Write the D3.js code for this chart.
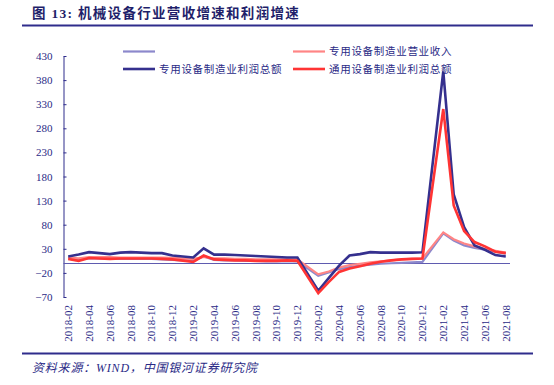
<!DOCTYPE html>
<html>
<head>
<meta charset="utf-8">
<script src="https://cdn.jsdelivr.net/npm/d3@7"></script>
<style>
  body { margin: 0; background: #fff; }
  svg { display: block; }
</style>
</head>
<body>
<div id="chart"></div>
<script>
// 月份（1月无单独数据，为 null）
const months = [
  "2018-02","2018-03","2018-04","2018-05","2018-06","2018-07","2018-08","2018-09","2018-10","2018-11","2018-12",
  "2019-01","2019-02","2019-03","2019-04","2019-05","2019-06","2019-07","2019-08","2019-09","2019-10","2019-11","2019-12",
  "2020-01","2020-02","2020-03","2020-04","2020-05","2020-06","2020-07","2020-08","2020-09","2020-10","2020-11","2020-12",
  "2021-01","2021-02","2021-03","2021-04","2021-05","2021-06","2021-07","2021-08"
];
const xTickLabels = [
  "2018-02","2018-04","2018-06","2018-08","2018-10","2018-12","2019-02","2019-04","2019-06","2019-08","2019-10",
  "2019-12","2020-02","2020-04","2020-06","2020-08","2020-10","2020-12","2021-02","2021-04","2021-06","2021-08"
];
const yTicks = [-70, -20, 30, 80, 130, 180, 230, 280, 330, 380, 430];

// 通用设备制造业营业收入（图例无文字）
const revGeneral = [
  10, 8, 10, 10, 10, 9, 9, 9, 9, 8, 7,
  null, 5, 14, 7, 6, 6, 5, 5, 4, 4, 4, 4,
  null, -26, -19, -12, -8, -5, -3, -1, 0, 1, 2, 3,
  null, 62, 47, 37, 32, 28, 24, 20
];
// 专用设备制造业营业收入
const revSpecial = [
  12, 10, 13, 13, 13, 12, 12, 12, 12, 12, 11,
  null, 9, 13, 10, 10, 9, 9, 8, 8, 8, 8, 8,
  null, -23, -17, -9, -4, -1, 2, 4, 6, 8, 9, 10,
  null, 64, 50, 41, 35, 30, 26, 22
];
// 专用设备制造业利润总额
const profitSpecial = [
  14, 18, 23, 21, 19, 22, 23, 22, 21, 21, 16,
  null, 12, 31, 18, 18, 17, 16, 15, 14, 13, 12, 12,
  null, -57, -31, -5, 16, 19, 23, 22, 22, 22, 22, 23,
  null, 398, 143, 75, 37, 28, 17, 14
];
// 通用设备制造业利润总额
const profitGeneral = [
  9, 5, 11, 10, 9, 10, 10, 10, 10, 9, 8,
  null, 3, 16, 8, 7, 6, 6, 5, 5, 5, 6, 5,
  null, -62, -39, -18, -11, -6, -1, 3, 6, 8, 9, 10,
  null, 320, 120, 67, 44, 35, 24, 21
];

const seriesNames = ["", "专用设备制造业营业收入", "专用设备制造业利润总额", "通用设备制造业利润总额"];
const seriesColors = ["#8c88cc", "#ff8585", "#35308e", "#ff3434"];
const seriesWidths = [2.2, 2.2, 2.6, 2.6];
const seriesValues = [revGeneral, revSpecial, profitSpecial, profitGeneral];

const W = 554, H = 385;
const navy = "#2f2c8c";
const textNavy = "#2a2a86";

const svg = d3.select("#chart").append("svg")
  .attr("width", W).attr("height", H);

// 标题
svg.append("text")
  .attr("x", 32).attr("y", 18)
  .attr("font-family", "'Liberation Serif','Noto Sans CJK SC',serif")
  .attr("font-weight", "bold")
  .attr("font-size", "13.5px")
  .attr("letter-spacing", "1.3px")
  .attr("fill", "#1f1f6a")
  .text("图 13:  机械设备行业营收增速和利润增速");

svg.append("line")
  .attr("x1", 22).attr("x2", 533).attr("y1", 25.5).attr("y2", 25.5)
  .attr("stroke", navy).attr("stroke-width", 2);

svg.append("line")
  .attr("x1", 22).attr("x2", 533).attr("y1", 353.5).attr("y2", 353.5)
  .attr("stroke", navy).attr("stroke-width", 2);

svg.append("text")
  .attr("x", 32).attr("y", 372)
  .attr("font-family", "'Liberation Serif','Noto Sans CJK SC',serif")
  .attr("font-style", "italic")
  .attr("font-size", "12px")
  .attr("letter-spacing", "0.8px")
  .attr("fill", textNavy)
  .text("资料来源：WIND，中国银河证券研究院");

// 比例尺
const x = d3.scaleBand().domain(months).range([63, 511]);
const cx = m => x(m) + x.bandwidth() / 2;
const y = d3.scaleLinear().domain([-70, 430]).range([297, 56]);

// Y 轴（刻度朝内）
const yAxis = svg.append("g")
  .attr("transform", "translate(63.5,0)")
  .call(d3.axisLeft(y).tickValues(yTicks).tickSizeInner(-3).tickSizeOuter(0).tickPadding(11));
yAxis.select(".domain").attr("stroke", navy);
yAxis.selectAll("line").attr("stroke", navy);
yAxis.selectAll("text")
  .attr("font-family", "'Liberation Serif',serif")
  .attr("font-size", "11px")
  .attr("fill", textNavy);

// X 轴标签（竖排）
const xAxis = svg.append("g")
  .attr("transform", "translate(0,297)")
  .call(d3.axisBottom(x).tickValues(xTickLabels).tickSize(0));
xAxis.select(".domain").remove();
xAxis.selectAll("text")
  .attr("transform", "rotate(-90)")
  .attr("x", -8).attr("y", 0).attr("dy", "0.35em")
  .attr("text-anchor", "end")
  .attr("font-family", "'Liberation Serif',serif")
  .attr("font-size", "11px")
  .attr("fill", textNavy);

// 零线
svg.append("line")
  .attr("x1", 63.5).attr("x2", 510).attr("y1", Math.round(y(0)) + 0.5).attr("y2", Math.round(y(0)) + 0.5)
  .attr("stroke", "#5f5bb0").attr("stroke-width", 1);

// 折线
const line = d3.line()
  .x(d => cx(d.m))
  .y(d => y(d.v));

seriesValues.forEach((vals, i) => {
  const pts = months.map((m, j) => ({ m, v: vals[j] })).filter(d => d.v != null);
  svg.append("path")
    .datum(pts)
    .attr("fill", "none")
    .attr("stroke", seriesColors[i])
    .attr("stroke-width", seriesWidths[i])
    .attr("stroke-linejoin", "miter")
    .attr("d", line);
});

// 图例
const legendPos = [
  { x: 123, y: 51.5 },
  { x: 293, y: 51.5 },
  { x: 123, y: 69 },
  { x: 293, y: 69 }
];
seriesNames.forEach((name, i) => {
  const p = legendPos[i];
  const g = svg.append("g").attr("transform", `translate(${p.x},${p.y})`);
  g.append("line")
    .attr("x1", 0).attr("x2", 32).attr("y1", 0).attr("y2", 0)
    .attr("stroke", seriesColors[i]).attr("stroke-width", seriesWidths[i]);
  g.append("text")
    .attr("x", 36).attr("y", 0).attr("dy", "0.36em")
    .attr("font-family", "'Noto Sans CJK SC',sans-serif")
    .attr("font-size", "10.5px")
    .attr("letter-spacing", "0.7px")
    .attr("fill", textNavy)
    .text(name);
});
</script>
</body>
</html>
